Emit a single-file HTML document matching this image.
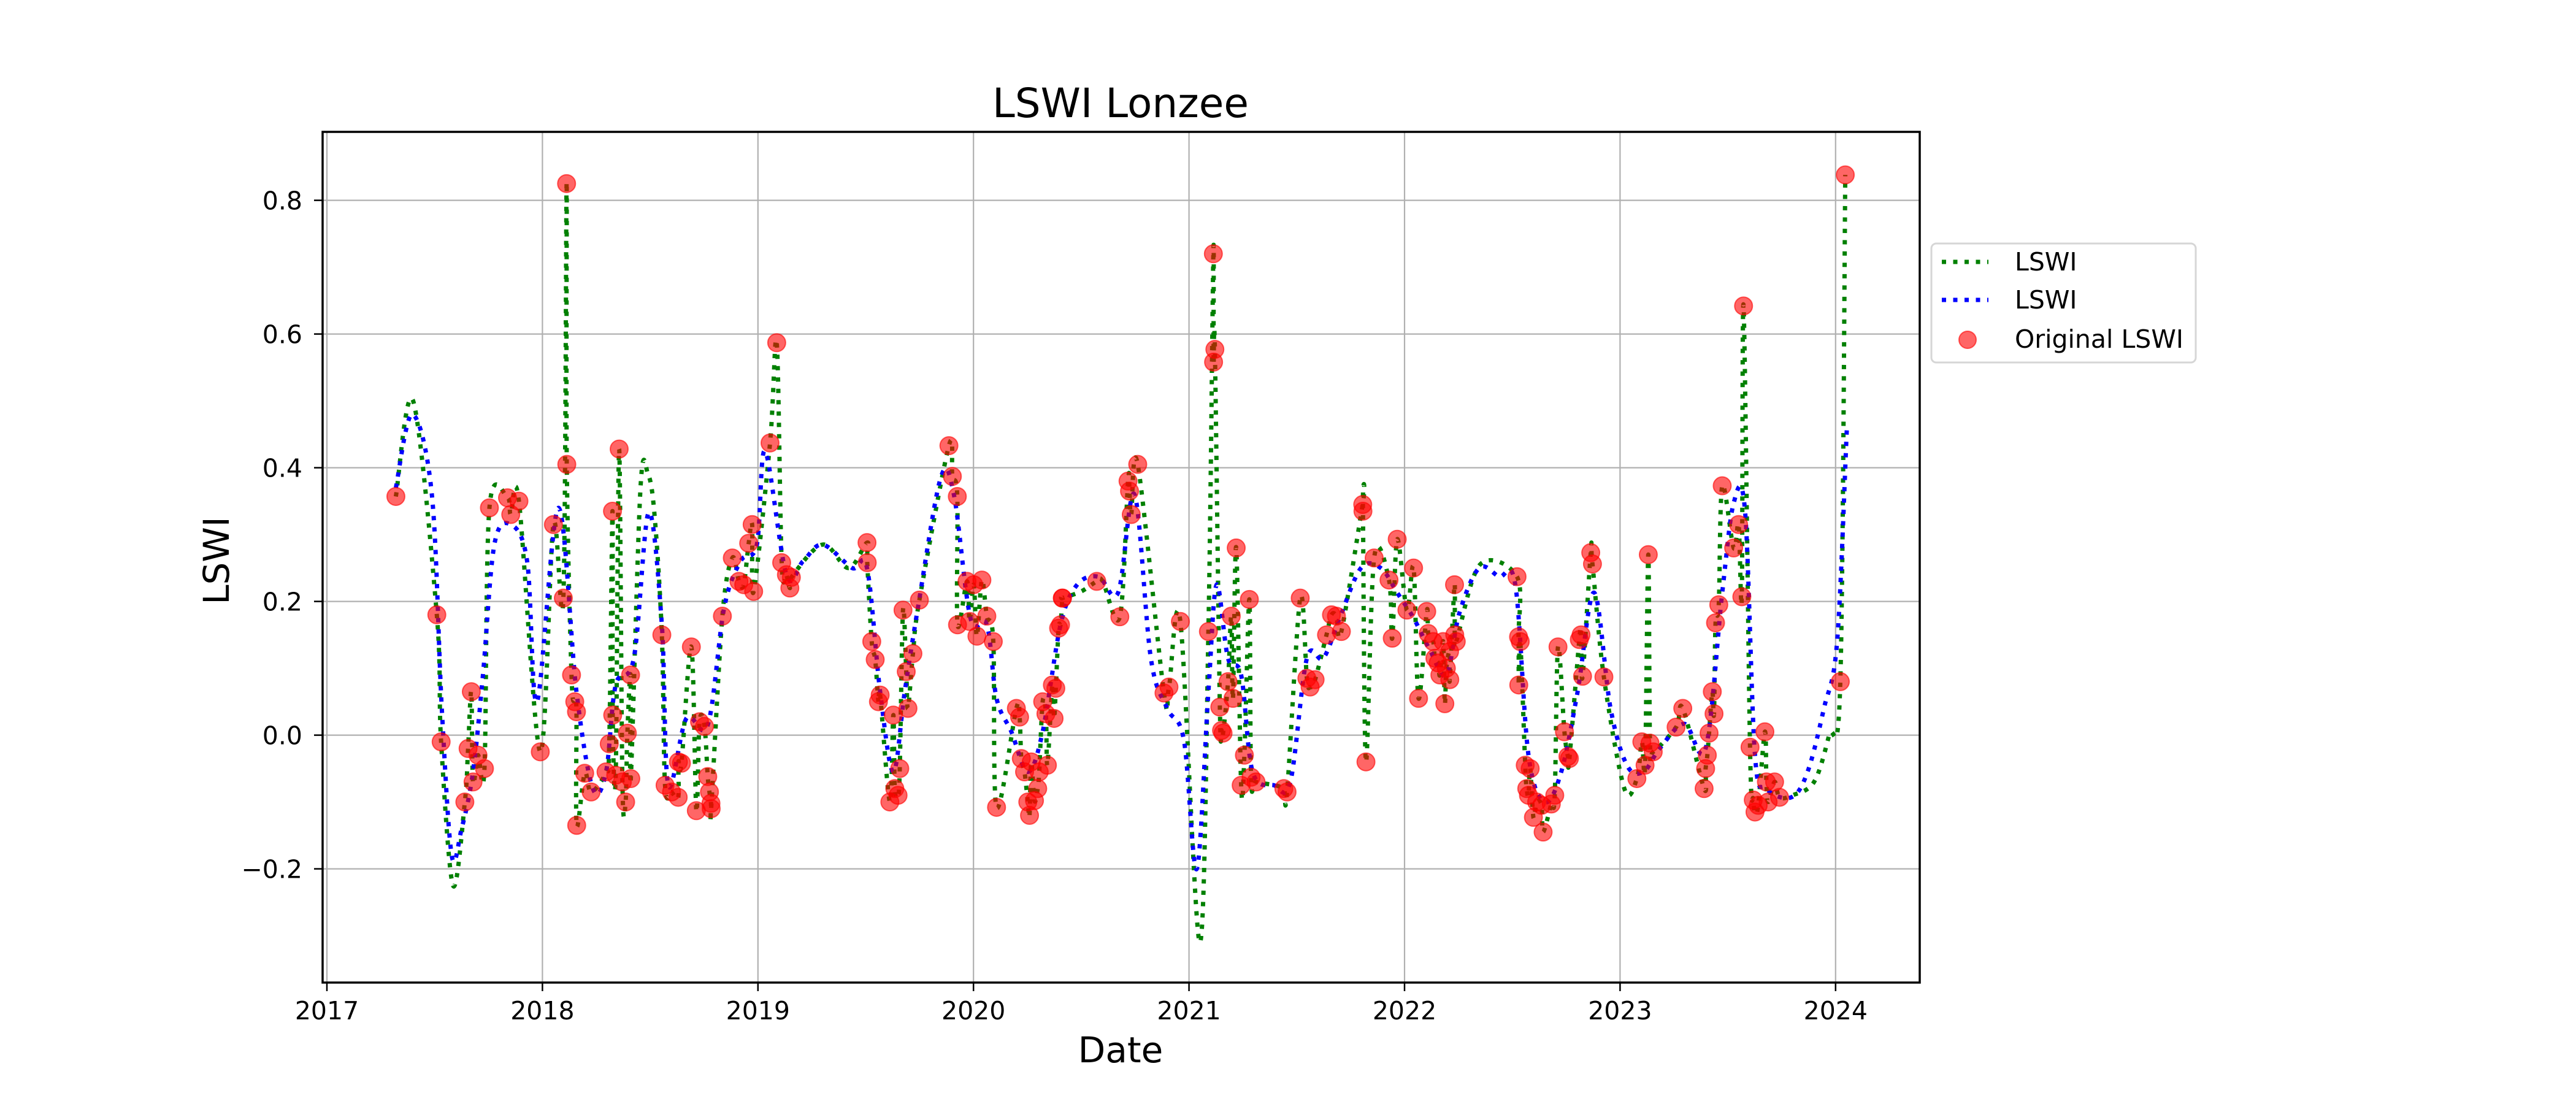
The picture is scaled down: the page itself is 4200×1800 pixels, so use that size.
<!DOCTYPE html>
<html><head><meta charset="utf-8"><title>LSWI Lonzee</title>
<style>
html,body{margin:0;padding:0;background:#fff;width:4200px;height:1800px;overflow:hidden;}
svg text{font-family:"DejaVu Sans","Liberation Sans",sans-serif;}
</style></head>
<body>
<svg id="chart" width="4200" height="1800" viewBox="0 0 4200 1800" xmlns="http://www.w3.org/2000/svg">
<rect width="4200" height="1800" fill="#fff"/>
<g id="grid"></g>
<g id="series"></g>
<rect x="526" y="215" width="2604" height="1387" fill="none" stroke="#000" stroke-width="3.5"/>
<g id="ticks"></g>
<text x="1827" y="191" font-size="66" text-anchor="middle">LSWI Lonzee</text>
<text x="1827" y="1732" font-size="58" text-anchor="middle">Date</text>
<text x="0" y="0" font-size="58" text-anchor="middle" transform="translate(373,914) rotate(-90)">LSWI</text>
<g>
<rect x="3149" y="397" width="431" height="194" rx="8" fill="#fff" fill-opacity="0.8" stroke="#d6d6d6" stroke-width="3"/>
<line x1="3166" y1="427" x2="3242" y2="427" stroke="#008000" stroke-width="7" stroke-dasharray="7 11.5"/>
<text x="3285" y="441" font-size="41">LSWI</text>
<line x1="3166" y1="489" x2="3242" y2="489" stroke="#0000ff" stroke-width="7" stroke-dasharray="7 11.5"/>
<text x="3285" y="503" font-size="41">LSWI</text>
<circle cx="3208" cy="554" r="14" fill="rgba(255,0,0,0.6)" stroke="rgba(255,0,0,0.6)" stroke-width="2"/>
<text x="3285" y="567" font-size="41">Original LSWI</text>
</g>
</svg>
<script>
// ---- data ----
const xTickLabels = ["2017","2018","2019","2020","2021","2022","2023","2024"];
const yTickValues = [-0.2, 0.0, 0.2, 0.4, 0.6, 0.8];
const yTickLabels = ["\u22120.2","0.0","0.2","0.4","0.6","0.8"];
// Original LSWI observations (decimal year, value)
const origDates = [2017.32,2017.51,2017.53,2017.64,2017.655,2017.67,2017.678,2017.701,2017.731,2017.754,2017.838,2017.853,2017.891,2017.99,
2018.051,2018.097,2018.112,2018.113,2018.135,2018.15,2018.158,2018.159,2018.196,2018.226,2018.295,2018.31,2018.325,2018.326,2018.34,2018.356,2018.371,2018.386,2018.394,2018.409,2018.41,
2018.554,2018.569,2018.599,2018.63,2018.631,2018.645,2018.691,2018.714,2018.729,2018.752,2018.767,2018.775,2018.782,2018.783,2018.835,2018.881,2018.912,2018.934,2018.957,2018.973,2018.98,
2019.056,2019.087,2019.11,2019.132,2019.148,2019.155,2019.506,2019.507,2019.528,2019.544,2019.559,2019.567,2019.612,2019.628,2019.635,2019.65,2019.658,2019.673,2019.688,2019.696,2019.719,2019.749,
2019.886,2019.902,2019.925,2019.926,2019.97,2019.982,2020.001,2020.016,2020.039,2020.062,2020.092,2020.107,
2020.199,2020.214,2020.222,2020.237,2020.252,2020.26,2020.268,2020.283,2020.298,2020.305,2020.321,2020.336,2020.343,2020.366,2020.374,2020.382,2020.395,2020.404,2020.412,2020.413,
2020.572,2020.679,2020.717,2020.724,2020.732,2020.762,2020.884,2020.907,2020.96,
2021.09,2021.113,2021.114,2021.12,2021.143,2021.151,2021.158,2021.181,2021.196,2021.204,2021.219,2021.242,2021.257,2021.28,2021.288,2021.311,2021.44,2021.455,
2021.516,2021.547,2021.562,2021.585,2021.638,2021.661,2021.684,2021.707,2021.806,2021.807,2021.821,2021.859,2021.928,2021.943,2021.966,
2022.011,2022.042,2022.065,2022.103,2022.11,2022.133,2022.141,2022.156,2022.164,2022.179,2022.187,2022.194,2022.209,2022.21,2022.232,2022.233,2022.24,
2022.522,2022.529,2022.53,2022.537,2022.56,2022.567,2022.575,2022.583,2022.598,2022.613,2022.636,2022.643,2022.681,2022.697,2022.712,2022.742,2022.758,2022.765,2022.811,2022.819,2022.826,2022.864,2022.872,2022.925,
2023.078,2023.101,2023.116,2023.131,2023.139,2023.154,2023.26,2023.291,2023.39,2023.397,2023.405,2023.413,2023.428,2023.436,2023.443,2023.458,2023.474,2023.527,2023.55,2023.565,2023.573,
2023.603,2023.618,2023.626,2023.641,2023.672,2023.679,2023.687,2023.717,2023.74,2024.022,2024.045];
const origValues = [0.357,0.18,-0.01,-0.1,-0.02,0.065,-0.07,-0.03,-0.05,0.34,0.355,0.33,0.35,-0.025,
0.315,0.205,0.825,0.405,0.09,0.05,0.035,-0.135,-0.057,-0.085,-0.055,-0.013,0.335,0.03,-0.06,0.428,-0.07,-0.1,0.003,0.09,-0.065,
0.15,-0.075,-0.085,-0.093,-0.04,-0.042,0.132,-0.113,0.02,0.013,-0.062,-0.085,-0.102,-0.11,0.178,0.265,0.23,0.225,0.287,0.315,0.215,
0.437,0.587,0.258,0.24,0.22,0.236,0.288,0.258,0.14,0.113,0.05,0.06,-0.1,0.03,-0.08,-0.09,-0.05,0.187,0.095,0.04,0.122,0.202,
0.433,0.387,0.357,0.165,0.23,0.17,0.225,0.148,0.232,0.178,0.14,-0.108,
0.04,0.027,-0.035,-0.055,-0.1,-0.12,-0.04,-0.098,-0.08,-0.055,0.05,0.032,-0.045,0.075,0.025,0.07,0.16,0.165,0.205,0.205,
0.23,0.177,0.38,0.365,0.33,0.405,0.063,0.072,0.17,
0.155,0.72,0.558,0.577,0.042,0.007,0.003,0.08,0.178,0.055,0.28,-0.075,-0.03,0.203,-0.063,-0.07,-0.08,-0.085,
0.205,0.085,0.072,0.083,0.15,0.18,0.178,0.155,0.345,0.335,-0.04,0.265,0.232,0.145,0.293,
0.187,0.25,0.055,0.185,0.152,0.14,0.115,0.108,0.09,0.14,0.047,0.1,0.125,0.083,0.225,0.15,0.14,
0.237,0.147,0.075,0.14,-0.045,-0.08,-0.09,-0.05,-0.123,-0.1,-0.105,-0.145,-0.103,-0.09,0.132,0.005,-0.032,-0.035,0.143,0.15,0.088,0.273,0.256,0.087,
-0.065,-0.01,-0.045,0.27,-0.012,-0.025,0.012,0.04,-0.08,-0.05,-0.03,0.003,0.065,0.032,0.168,0.195,0.373,0.28,0.315,0.207,0.642,
-0.018,-0.097,-0.115,-0.105,0.005,-0.07,-0.1,-0.07,-0.093,0.08,0.838];
// Extra interpolated-curve points (green line) in gaps between observations
const greenExtraDates = [2017.40,2017.585,2018.455,2018.49,2018.52,2019.30,2019.42,2020.50,2020.60,2021.05,2021.40,2022.35,2023.02,2023.80,2023.90,2023.97];
const greenExtraValues = [0.50,-0.225,0.37,0.39,0.33,0.285,0.25,0.215,0.23,-0.31,-0.075,0.255,-0.08,-0.09,-0.07,0.0];
// Smoothed series (blue line)
const blueDates = [2017.32,2017.396,2017.487,2017.533,2017.579,2017.625,2017.678,2017.724,2017.777,2017.853,2017.929,2017.975,2018.074,2018.158,2018.234,2018.295,2018.34,2018.424,2018.493,2018.554,2018.584,2018.668,2018.767,2018.843,2018.919,2018.995,2019.033,2019.132,2019.209,2019.3,2019.437,2019.506,2019.567,2019.628,2019.681,2019.742,2019.848,2019.909,2019.986,2020.062,2020.107,2020.176,2020.252,2020.321,2020.404,2020.481,2020.58,2020.671,2020.747,2020.823,2020.899,2020.976,2021.036,2021.09,2021.128,2021.181,2021.242,2021.295,2021.394,2021.47,2021.547,2021.623,2021.699,2021.798,2021.89,2021.966,2022.042,2022.118,2022.194,2022.255,2022.346,2022.438,2022.514,2022.575,2022.651,2022.727,2022.803,2022.88,2022.956,2023.032,2023.108,2023.184,2023.298,2023.397,2023.474,2023.527,2023.58,2023.626,2023.679,2023.794,2023.87,2023.946,2024.007,2024.052];
const blueValues = [0.37,0.48,0.36,0.04,-0.18,-0.14,-0.055,0.09,0.285,0.315,0.26,0.05,0.34,0.065,-0.08,-0.055,0.075,0.115,0.333,0.165,-0.075,0.025,0.015,0.19,0.26,0.285,0.425,0.24,0.26,0.285,0.25,0.25,0.065,-0.055,0.065,0.19,0.385,0.36,0.175,0.165,0.055,0.005,-0.055,0.005,0.165,0.225,0.237,0.213,0.36,0.115,0.04,-0.007,-0.2,0.065,0.225,0.115,0.09,-0.055,-0.075,-0.07,0.115,0.115,0.175,0.25,0.25,0.213,0.175,0.127,0.09,0.183,0.25,0.237,0.225,-0.03,-0.1,-0.055,0.065,0.213,0.04,-0.045,-0.055,-0.02,0.017,-0.02,0.213,0.347,0.335,-0.03,-0.08,-0.093,-0.055,0.04,0.14,0.457];

// ---- scales ----
const NS = "http://www.w3.org/2000/svg";
const X0 = 533, XPY = 351.4, Y0 = 1198.6, YPU = 1090;
const xs = d => X0 + (d - 2017) * XPY;
const ys = v => Y0 - v * YPU;
function mk(tag, attrs, parent){ const e=document.createElementNS(NS,tag); for(const k in attrs) e.setAttribute(k,attrs[k]); parent.appendChild(e); return e; }
function crPath(pts){
  let d = "M"+pts[0][0].toFixed(1)+","+pts[0][1].toFixed(1);
  for(let i=0;i<pts.length-1;i++){
    const p0=pts[Math.max(0,i-1)], p1=pts[i], p2=pts[i+1], p3=pts[Math.min(pts.length-1,i+2)];
    const c1=[p1[0]+(p2[0]-p0[0])/6, p1[1]+(p2[1]-p0[1])/6];
    const c2=[p2[0]-(p3[0]-p1[0])/6, p2[1]-(p3[1]-p1[1])/6];
    d+=" C"+c1[0].toFixed(1)+","+c1[1].toFixed(1)+" "+c2[0].toFixed(1)+","+c2[1].toFixed(1)+" "+p2[0].toFixed(1)+","+p2[1].toFixed(1);
  }
  return d;
}
const grid = document.getElementById("grid"), ticks = document.getElementById("ticks"), series = document.getElementById("series");
xTickLabels.forEach(lab=>{
  const x = xs(+lab);
  const g = mk("line",{x1:x,y1:215,x2:x,y2:1602,stroke:"#b0b0b0","stroke-width":2.2},grid);
  
  
  const t = mk("line",{x1:x,y1:1602,x2:x,y2:1616,stroke:"#000","stroke-width":2.5},ticks);
  
  
  const tx = mk("text",{x:x,y:1662,"font-size":41,"text-anchor":"middle"},ticks);
  tx.textContent = lab;
  
  
});
yTickValues.forEach((v,i)=>{
  const y = ys(v);
  const g = mk("line",{x1:526,y1:y,x2:3130,y2:y,stroke:"#b0b0b0","stroke-width":2.2},grid);
  
  
  const t = mk("line",{x1:512,y1:y,x2:526,y2:y,stroke:"#000","stroke-width":2.5},ticks);
  
  
  const tx = mk("text",{x:493,y:y+15,"font-size":41,"text-anchor":"end"},ticks);
  tx.textContent = yTickLabels[i];
  
  
});
// green line
const gp = origDates.map((d,i)=>[d,origValues[i]]).concat(greenExtraDates.map((d,i)=>[d,greenExtraValues[i]]));
gp.sort((a,b)=>a[0]-b[0]);
const green = mk("path",{d:crPath(gp.map(p=>[xs(p[0]),ys(p[1])])),fill:"none",stroke:"#008000","stroke-width":7,"stroke-dasharray":"7 11.5"},series);


// blue line
const blue = mk("path",{d:crPath(blueDates.map((d,i)=>[xs(d),ys(blueValues[i])])),fill:"none",stroke:"#0000ff","stroke-width":7,"stroke-dasharray":"7 11.5"},series);


// red points
origDates.forEach((d,i)=>{
  const c = mk("circle",{cx:xs(d),cy:ys(origValues[i]),r:14.5,fill:"rgba(255,0,0,0.6)",stroke:"rgba(255,0,0,0.6)","stroke-width":2},series);
  
  
});
</script>
</body></html>
